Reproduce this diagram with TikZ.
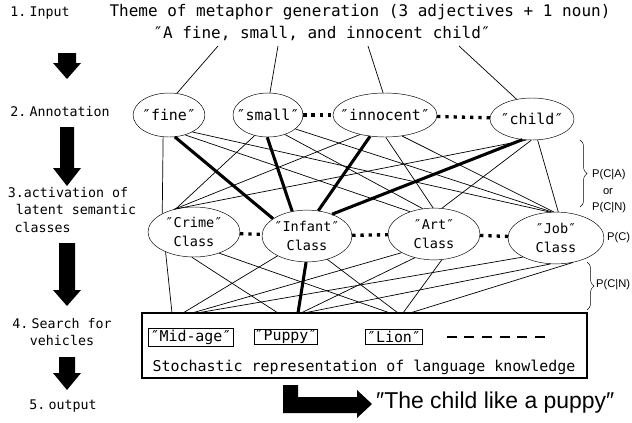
\documentclass[tikz,border=0pt]{standalone}
\usepackage{fontspec}
\setmainfont{DejaVu Sans Mono}
\newfontfamily\probfont{Liberation Sans}
\usepackage{tikz}
\usetikzlibrary{shapes.geometric}
\usetikzlibrary{positioning}
\usetikzlibrary{decorations.pathreplacing}

\tikzset{
  word/.style={draw, ellipse, inner sep=0pt, minimum height=37.4pt},
  cls/.style={draw, ellipse, inner sep=0pt, align=center, minimum height=44pt, font=\fontsize{11.5}{16}\selectfont},
  link/.style={line width=0.6pt},
  strong/.style={line width=2.6pt},
  dots/.style={line width=2.8pt, dash pattern=on 2.8pt off 4.2pt},
  stage/.style={font=\fontsize{11.3}{15}\selectfont, align=center},
  prob/.style={font=\probfont\fontsize{9.5}{11}\selectfont, inner sep=0pt},
  vehicle/.style={draw, line width=0.6pt, inner sep=1.5pt},
}

% text inside an ellipse keeps the ellipse at its own size
\newcommand{\inell}[1]{\makebox[0pt]{#1}}
\newcommand{\nsp}{\hspace{0.25em}}
% top, neck, tip, half width of shaft
\newcommand{\stagearrow}[4]{%
  \fill (67-#4,#1) -- (67+#4,#1) -- (67+#4,#2) -- (81,#2) -- (67,#3) -- (53,#2) -- (67-#4,#2) -- cycle;}

\begin{document}
\begin{tikzpicture}[x=0.85pt, y=-0.85pt, font=\fontsize{12.7}{15}\selectfont]
	\useasboundingbox (0,0) rectangle (632,423);
	% stages on the left
	\node[stage] (s1) at (40,13) {1.\nsp Input};
	\node[stage] (s2) at (60,112) {2.\nsp Annotation};
	\node[stage, align=left] (s3) at (72,210) {3.activation of\\\hspace*{0.6em}latent semantic\\\hspace*{0.5em}classes};
	\node[stage] (s4) at (62,332) {4.\nsp Search for\\vehicles};
	\node[stage] (s5) at (63,406) {5.\nsp output};
	\stagearrow{53}{63}{79}{9}
	\stagearrow{127}{168}{186}{7}
	\stagearrow{243}{290}{306}{8}
	\stagearrow{357}{373}{390}{8}

	% input theme
	\node[font=\fontsize{13.6}{16}\selectfont] (theme) at (360,12) {Theme of metaphor generation (3 adjectives + 1 noun)};
	\node[font=\fontsize{13.6}{16}\selectfont] (phrase) at (322,33) {″A fine, small, and innocent child″};
	\coordinate (q1) at (218,46);
	\coordinate (q2) at (278,46);
	\coordinate (q3) at (368,46);
	\coordinate (q4) at (459,46);

	% annotation
	\node[word, minimum width=61pt] (fine) at (169,115) {\inell{″fine″}};
	\node[word, minimum width=59.5pt] (small) at (268,115) {\inell{″small″}};
	\node[word, minimum width=88.4pt] (innocent) at (385,115) {\inell{″innocent″}};
	\node[word, minimum width=71.4pt, minimum height=35.7pt] (child) at (532,119) {\inell{″child″}};
	\draw[link] (q1) -- (fine.70);
	\draw[link] (q2) -- (small.85);
	\draw[link] (q3) -- (innocent.95);
	\draw[link] (q4) -- (child.128);
	\draw[dots] (small) -- (innocent);
	\draw[dots] (innocent) -- (child);

	% latent semantic classes
	\node[cls, minimum width=78.2pt, minimum height=42.5pt] (crime) at (194,232) {\inell{″Crime″}\\\inell{Class}};
	\node[cls, minimum width=76.5pt] (infant) at (307,236) {\inell{″Infant″}\\\inell{Class}};
	\node[cls, minimum width=78.2pt] (art) at (434,234) {\inell{″Art″}\\\inell{Class}};
	\node[cls, minimum width=81.6pt] (job) at (556,238) {\inell{″Job″}\\\inell{Class}};
	\draw[dots] (crime) -- (infant);
	\draw[dots] (infant) -- (art);
	\draw[dots] (art) -- (job);
	\foreach \a/\c in {fine.255/crime.150, fine.309/art.137, fine.324/job.103,
		small.237/crime.128, small.311/art.114, small.333/job.99,
		innocent.218/crime.130, innocent.272/art.92, innocent.309/job.95,
		child.255/crime.132, child.268/art.73, child.285/job.85}
		\draw[link] (\a) -- (\c);
	\foreach \a/\c in {fine.285/infant.153, small.268/infant.121, innocent.235/infant.66, child.245/infant.41}
		\draw[strong] (\a) -- (\c);

	% language knowledge
	\node[draw, line width=1.6pt, minimum width=378pt, minimum height=55pt] (kb) at (364.5,345.5) {};
	\node[vehicle] (midage) at (191,337) {″Mid-age″};
	\node[vehicle, inner sep=0.3pt] (puppy) at (286,337) {″Puppy″};
	\node[vehicle] (lion) at (394,337) {″Lion″};
	\draw[line width=2.5pt, dash pattern=on 8.5pt off 6.5pt] ([xshift=20pt]lion.east) -- ++(100,0);
	\node (stoch) at (364,367) {Stochastic representation of language knowledge};
	\foreach \n/\x in {m1/172, m2/183, m3/192, m4/197, p1/278, p2/298, p3/301, p4/304, l1/390, l2/398, l3/403, l4/410}
		\coordinate (\n) at (\x,313);
	\foreach \c/\t in {crime.215/m1, crime.265/p1, crime.320/l1,
		infant.214/m2, infant.311/l2,
		art.210/m3, art.231/p3, art.287/l3,
		job.210/m4, job.258/p4, job.305/l4}
		\draw[link] (\c) -- (\t);
	\draw[strong] (infant.268) -- (p2);

	% probabilities
	\draw[decorate, decoration={brace, amplitude=6pt}] (580,140) -- (580,207);
	\node[prob, anchor=west] (pca) at (592,175) {P(C|A)};
	\node[prob] (por) at (608,192) {or};
	\node[prob, anchor=west] (pcn) at (592,208) {P(C|N)};
	\node[prob, anchor=west] (pc) at (607,238) {P(C)};
	\draw[decorate, decoration={brace, amplitude=6pt}] (587,262) -- (587,310);
	\node[prob, anchor=west] (pcn2) at (596,285) {P(C|N)};

	% output
	\fill (283,385) -- (298,385) -- (298,397) -- (357,397) -- (357,390) -- (372,404)
		-- (357,418) -- (357,413) -- (283,413) -- cycle;
	\node[anchor=west, font=\probfont\fontsize{19.5}{22}\selectfont, inner sep=0pt] (result) at (376,403) {″The child like a puppy″};
\end{tikzpicture}
\end{document}
